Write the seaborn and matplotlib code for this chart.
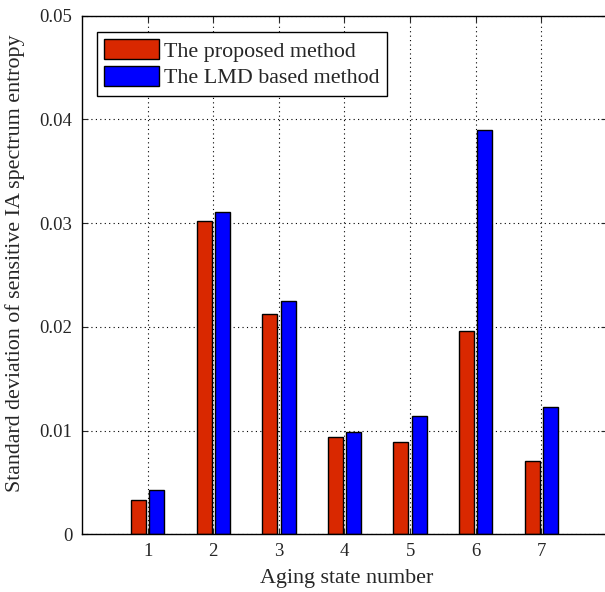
import numpy as np
import pandas as pd
import matplotlib
matplotlib.use('Agg')
import matplotlib.pyplot as plt
import seaborn as sns

sns.set_style('ticks')
plt.rcParams['font.family'] = ['Liberation Serif', 'DejaVu Serif']
plt.rcParams['font.size'] = 13.5

states = ['1', '2', '3', '4', '5', '6', '7']
proposed = [0.0033, 0.0302, 0.0212, 0.0094, 0.0089, 0.0196, 0.0071]
lmd = [0.0043, 0.0311, 0.0225, 0.0099, 0.0114, 0.0390, 0.0123]
methods = ['The proposed method', 'The LMD based method']
yticks = [0, 0.01, 0.02, 0.03, 0.04, 0.05]
ylabels = ['0', '0.01', '0.02', '0.03', '0.04', '0.05']

df = pd.DataFrame({
    'state': states * 2,
    'value': proposed + lmd,
    'method': [methods[0]] * len(states) + [methods[1]] * len(states),
})

fig = plt.figure(figsize=(6.05, 5.92), dpi=100)
ax = fig.add_axes([82 / 605, 57.7 / 592, 525 / 605, 518.6 / 592])
sns.barplot(data=df, x='state', y='value', hue='method', ax=ax,
            palette=['#D92800', '#0000FF'], width=0.56, gap=0.18,
            edgecolor='black', linewidth=1.0, saturation=1)

ax.set_xlim(-1, 7)
ax.set_ylim(0, 0.05)
ax.set_yticks(yticks)
ax.set_yticklabels(ylabels)
ax.set_axisbelow(True)
ax.grid(True, color='black', linestyle=(0, (1, 3)), linewidth=0.8)
ax.tick_params(direction='in', top=True, right=True, length=4, labelsize=13.5)
ax.tick_params(axis='y', pad=7)
ax.tick_params(axis='x', pad=6)
for s in ax.spines.values():
    s.set_linewidth(1.0)
    s.set_color('black')

ax.set_xlabel('Aging state number', fontsize=15.8)
ax.set_ylabel('Standard deviation of sensitive IA spectrum entropy', fontsize=15.8)
ax.xaxis.set_label_coords(0.505, -0.066)
ax.yaxis.set_label_coords(-0.108, 0.522)

h, l = ax.get_legend_handles_labels()
ax.legend(h, l, loc='upper left', bbox_to_anchor=(96.7 / 605, 1 - 31.7 / 592),
          bbox_transform=fig.transFigure, borderaxespad=0, fancybox=False,
          edgecolor='black', framealpha=1, handlelength=2.47, handleheight=1.0,
          handletextpad=0.25, labelspacing=0.2, borderpad=0.35, fontsize=15.8)
ax.get_legend().get_frame().set_linewidth(1.0)

fig.savefig('out.png', dpi=100)
